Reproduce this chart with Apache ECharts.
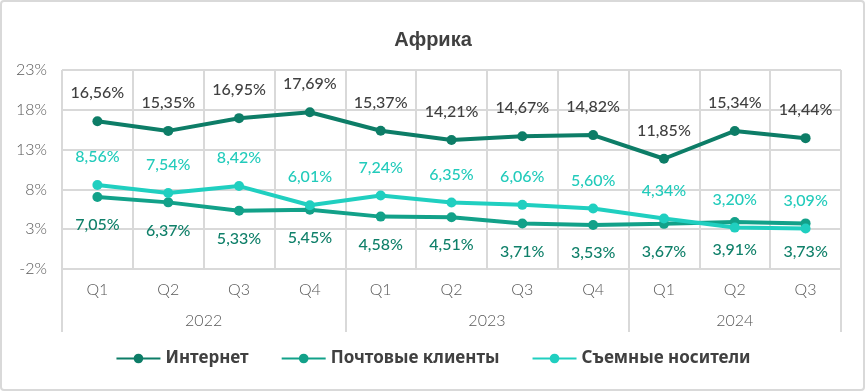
<!DOCTYPE html>
<html><head><meta charset="utf-8">
<script src="https://cdn.jsdelivr.net/npm/echarts@6/dist/echarts.min.js"></script>
<style>html,body{margin:0;padding:0;background:#fff}#c{width:866px;height:392px}</style>
</head><body><div id="c"></div>
<script>
const quarters = ['Q1','Q2','Q3','Q4','Q1','Q2','Q3','Q4','Q1','Q2','Q3'];
const years = ['2022','2023','2024'];
const yearCenters = [2, 6, 9.5];
const yearBounds = [0, 4, 8, 11];
const internet = [16.56,15.35,16.95,17.69,15.37,14.21,14.67,14.82,11.85,15.34,14.44];
const mail = [7.05,6.37,5.33,5.45,4.58,4.51,3.71,3.53,3.67,3.91,3.73];
const removable = [8.56,7.54,8.42,6.01,7.24,6.35,6.06,5.60,4.34,3.20,3.09];
const yMin = -2, yMax = 23, yStep = 5;
const shift = -yMin; // axis drawn from 0 so ticks align
const FONT = 'Lato, "Noto Sans", sans-serif';
const fmt = v => v.toFixed(2).replace('.', ',') + '%';

function mk(name, arr, color, labelColor, pos) {
  return {
    name, type: 'line', data: arr.map(v => v + shift),
    symbol: 'circle', symbolSize: 10,
    lineStyle: { width: 4, color }, itemStyle: { color },
    label: { show: true, position: pos, distance: 15, color: labelColor,
      fontSize: 16, fontFamily: FONT, fontWeight: 500,
      formatter: p => fmt(arr[p.dataIndex]) }
  };
}

const chart = echarts.init(document.getElementById('c'), null, { renderer: 'canvas' });
chart.setOption({
  animation: false,
  backgroundColor: '#fff',
  graphic: [{ type: 'rect', shape: { x: 1, y: 1, width: 863, height: 389, r: 3 },
    style: { fill: 'none', stroke: '#d9d9d9', lineWidth: 2 }, silent: true }],
  title: { text: 'Африка', left: 'center', top: 25,
    textStyle: { fontSize: 20, fontWeight: 'bold', color: '#404040', fontFamily: '"Liberation Sans Narrow", "Liberation Sans", Arial, sans-serif' } },
  grid: { left: 62, right: 25, top: 70, bottom: 123, containLabel: false },
  legend: { bottom: 20, left: 'center', itemWidth: 44, itemHeight: 12, itemGap: 32,
    textStyle: { fontSize: 17, fontWeight: 'bold', color: '#404040', fontFamily: '"Noto Sans", Lato, sans-serif' } },
  xAxis: [
    { type: 'category', data: quarters, boundaryGap: true, position: 'bottom',
      axisLine: { show: true, lineStyle: { color: '#d9d9d9', width: 2 } },
      axisTick: { show: false },
      splitLine: { show: true, lineStyle: { color: '#d9d9d9', width: 2 } },
      axisLabel: { color: '#595959', fontSize: 16, fontWeight: 300, fontFamily: FONT, margin: 13 } },
    { type: 'value', min: 0, max: quarters.length, position: 'bottom',
      axisLine: { show: false }, splitLine: { show: false },
      axisTick: { show: true, customValues: yearBounds, length: 63, inside: false,
        lineStyle: { color: '#d9d9d9', width: 2 } },
      axisLabel: { show: true, customValues: yearCenters, color: '#595959', fontSize: 16, fontWeight: 300, fontFamily: FONT, margin: 44,
        formatter: v => { const i = yearCenters.indexOf(v); return i >= 0 ? years[i] : ''; } } }
  ],
  yAxis: { type: 'value', min: yMin + shift, max: yMax + shift, interval: yStep,
    axisLine: { show: false }, axisTick: { show: false },
    splitLine: { lineStyle: { color: '#d9d9d9', width: 2 } },
    axisLabel: { color: '#595959', fontSize: 16, fontWeight: 300, fontFamily: FONT, margin: 15,
      formatter: v => Math.round(v - shift) + '%' } },
  series: [
    mk('Интернет', internet, '#0d7d67', '#404040', 'top'),
    mk('Почтовые клиенты', mail, '#12a189', '#10806a', 'bottom'),
    mk('Съемные носители', removable, '#20cfc0', '#22cbbb', 'top')
  ]
});
</script></body></html>
